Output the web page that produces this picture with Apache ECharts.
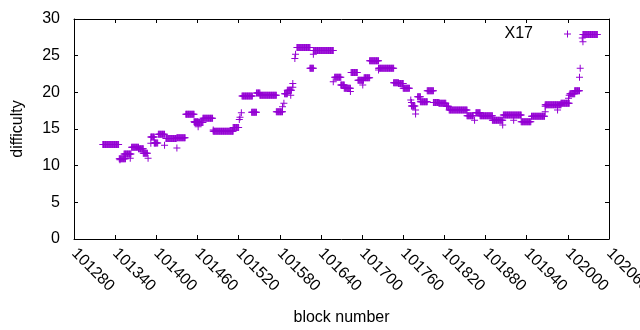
<!DOCTYPE html>
<html>
<head>
<meta charset="utf-8">
<script src="https://cdn.jsdelivr.net/npm/echarts@6/dist/echarts.min.js"></script>
<style>
  html, body { margin: 0; padding: 0; background: #fff; }
  #chart { width: 640px; height: 330px; }
</style>
</head>
<body>
<div id="chart"></div>
<script>
;(function () {
  // runs of consecutive blocks sitting at the same difficulty (first block, last block, level)
  const runFrom = [
    101322, 101346, 101353, 101364, 101374, 101381, 101392, 101397, 101403, 101414,
    101430, 101443, 101455, 101456, 101468, 101483, 101512, 101525, 101539, 101546,
    101551, 101575, 101587, 101591, 101605, 101624, 101629, 101660, 101669, 101674,
    101684, 101694, 101703, 101711, 101724, 101746, 101753, 101760, 101772, 101781,
    101785, 101795, 101804, 101812, 101823, 101827, 101853, 101866, 101872, 101890,
    101906, 101932, 101947, 101967, 101990, 102003, 102010, 102022,
  ]
  const runTo = [
    101345, 101355, 101363, 101374, 101381, 101387, 101397, 101402, 101412, 101429,
    101442, 101455, 101461, 101468, 101482, 101512, 101520, 101540, 101546, 101551,
    101575, 101584, 101591, 101597, 101624, 101629, 101658, 101669, 101674, 101683,
    101693, 101702, 101711, 101724, 101746, 101753, 101760, 101769, 101777, 101785,
    101795, 101804, 101812, 101822, 101826, 101853, 101862, 101872, 101890, 101905,
    101932, 101946, 101966, 101990, 102002, 102010, 102017, 102043,
  ]
  const runLevel = [
    12.9, 10.95, 11.6, 12.5, 12.3, 11.7, 13.9, 13.1, 14.3, 13.7,
    13.8, 17.0, 16.0, 15.9, 16.45, 14.7, 15.2, 19.5, 17.3, 19.9,
    19.6, 17.35, 19.8, 20.3, 26.1, 23.3, 25.7, 22.05, 21.0, 20.55,
    22.7, 21.65, 22.0, 24.3, 23.3, 21.3, 21.2, 20.55, 18.15, 19.4,
    18.7, 20.2, 18.6, 18.5, 18.1, 17.6, 16.8, 17.2, 16.8, 16.2,
    16.9, 16.0, 16.75, 18.3, 18.5, 19.8, 20.2, 27.9,
  ]

  // isolated blocks
  const singleBlock = [
    101347, 101362, 101388, 101392, 101398, 101412, 101430, 101461, 101483, 101521,
    101522, 101524, 101584, 101586, 101596, 101599, 101599, 101602, 101603, 101629,
    101658, 101683, 101701, 101724, 101771, 101772, 101778, 101778, 101864, 101905,
    101921, 101967, 101967, 101985, 102001, 102002, 102017, 102018, 102021, 102022,
  ]
  const singleLevel = [
    10.8, 11.0, 11.0, 13.05, 13.1, 12.8, 12.4, 15.3, 14.85, 16.3,
    16.6, 17.2, 18.05, 18.5, 19.6, 21.2, 20.7, 24.6, 25.2, 25.2,
    21.45, 20.1, 21.0, 23.05, 18.95, 18.6, 17.6, 17.05, 16.2, 15.55,
    16.2, 17.35, 18.1, 17.6, 19.2, 19.6, 22.05, 23.3, 27.4, 26.9,
  ]

  const xTickStart = 101280
  const xTickEnd = 102060
  const xTickStep = 60

  const points = []
  for (let i = 0; i < runFrom.length; i++) {
    for (let b = runFrom[i]; b <= runTo[i]; b++) points.push([b, runLevel[i]])
  }
  for (let i = 0; i < singleBlock.length; i++) points.push([singleBlock[i], singleLevel[i]])

  const purple = '#9400d3'
  const plus = 'path://M3,0h1v3h3v1h-3v3h-1v-3h-3v-1h3z'
  const font = "'Liberation Sans', Arial, sans-serif"

  const frameAxis = {
    axisLine: { show: true, onZero: false, lineStyle: { color: '#000', width: 1 } },
    axisTick: { show: true, inside: true, length: 4, lineStyle: { color: '#000' } },
    splitLine: { show: false },
  }

  const chart = echarts.init(document.getElementById('chart'), null, { renderer: 'canvas' })
  chart.setOption({
    animation: false,
    backgroundColor: '#fff',
    textStyle: { fontFamily: font, color: '#000' },
    grid: { left: 74, right: 31, top: 19, bottom: 91, containLabel: false, outerBoundsMode: 'none' },
    legend: {
      data: ['X17'],
      right: 69,
      top: 26,
      align: 'right',
      icon: plus,
      itemWidth: 7,
      itemHeight: 7,
      padding: 0,
      textStyle: { fontFamily: font, fontSize: 16, color: '#000', padding: [0, 26, 0, 0] },
    },
    xAxis: [
      {
        ...frameAxis,
        type: 'value',
        min: xTickStart,
        max: xTickEnd,
        interval: xTickStep,
        name: 'block number',
        nameLocation: 'middle',
        nameGap: 71,
        nameTextStyle: { fontFamily: font, fontSize: 16, color: '#000' },
        axisLabel: {
          rotate: -45,
          margin: 12,
          fontSize: 16,
          color: '#000',
          fontFamily: font,
          formatter: (v) => String(v),
        },
      },
      {
        ...frameAxis,
        type: 'value',
        position: 'top',
        min: xTickStart,
        max: xTickEnd,
        interval: xTickStep,
        axisLabel: { show: false },
      },
    ],
    yAxis: [
      {
        ...frameAxis,
        type: 'value',
        min: 0,
        max: 30,
        interval: 5,
        name: 'difficulty',
        nameLocation: 'middle',
        nameGap: 48,
        nameTextStyle: { fontFamily: font, fontSize: 16, color: '#000' },
        axisLabel: { margin: 14, fontSize: 16, color: '#000', fontFamily: font },
      },
      {
        ...frameAxis,
        type: 'value',
        position: 'right',
        min: 0,
        max: 30,
        interval: 5,
        axisLabel: { show: false },
      },
    ],
    series: [
      {
        name: 'X17',
        type: 'scatter',
        symbol: plus,
        symbolSize: 7,
        itemStyle: { color: purple, opacity: 1 },
        large: false,
        data: points,
      },
    ],
  })
})()
</script>
</body>
</html>
